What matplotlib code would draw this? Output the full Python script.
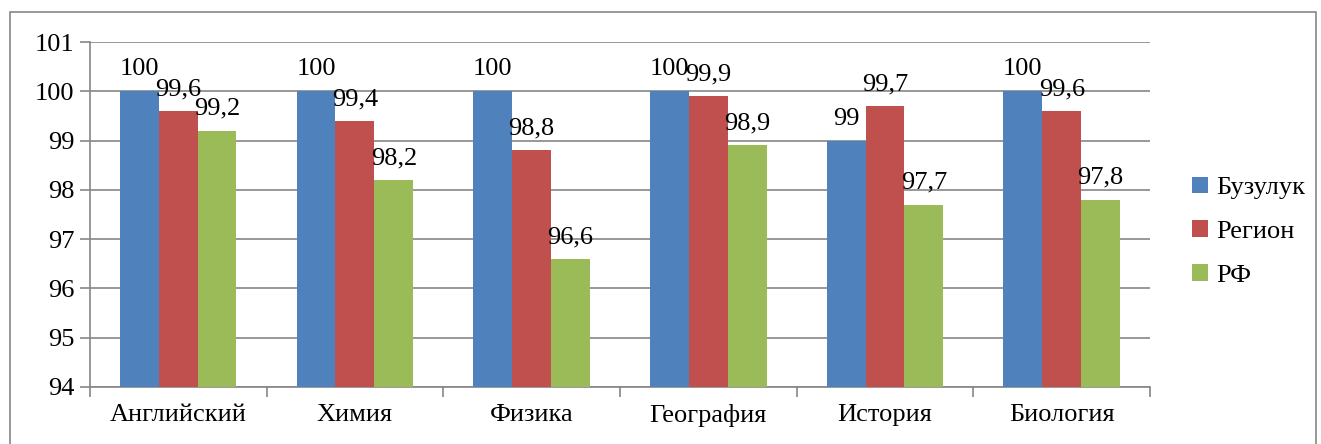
import numpy as np
import matplotlib
matplotlib.use("Agg")
import matplotlib.pyplot as plt
from matplotlib.patches import Rectangle

plt.rcParams['font.family'] = 'serif'
plt.rcParams['font.serif'] = ['Liberation Serif', 'DejaVu Serif']

subjects = ['Английский', 'Химия', 'Физика', 'География', 'История', 'Биология']
series_names = ['Бузулук', 'Регион', 'РФ']
buzuluk = [100, 100, 100, 100, 99, 100]
region = [99.6, 99.4, 98.8, 99.9, 99.7, 99.6]
rf = [99.2, 98.2, 96.6, 98.9, 97.7, 97.8]
colors = ['#4f81bd', '#c0504d', '#9bbb59']

fs = 19

fig = plt.figure(figsize=(13.21, 4.44), dpi=100)
ax = fig.add_axes([0.068, 0.1284, 0.8026, 0.777])

# outer chart border
fig.patches.append(Rectangle((10 / 1321, -0.05), 1306 / 1321, 1.05 - 12 / 444,
                             transform=fig.transFigure, fill=False,
                             edgecolor='#868686', linewidth=1.2))

x = np.arange(len(subjects))
w = 0.22
for i, (vals, name) in enumerate(zip([buzuluk, region, rf], series_names)):
    pos = x + (i - 1) * w
    ax.bar(pos, np.array(vals) - 94, width=w, bottom=94, color=colors[i],
           label=name, zorder=3)
    for p, v in zip(pos, vals):
        txt = ('%g' % v).replace('.', ',')
        ax.text(p, v + 0.22, txt, ha='center', va='bottom', fontsize=fs, zorder=4)

ax.set_ylim(94, 101)
ax.set_xlim(-0.5, len(subjects) - 0.5)
ax.set_yticks(range(94, 102))
ax.yaxis.grid(True, color='#868686', linewidth=1.2, zorder=0)
ax.set_xticks(x)
ax.set_xticklabels(subjects, fontsize=fs)
ax.set_xticks(np.arange(-0.5, len(subjects)), minor=True)
ax.tick_params(axis='x', which='major', length=0, pad=12)
ax.tick_params(axis='x', which='minor', length=7, color='#868686', width=1.2)
ax.tick_params(axis='y', labelsize=fs, length=7, color='#868686', width=1.2, pad=4)

for s in ['top', 'right']:
    ax.spines[s].set_visible(False)
for s in ['left', 'bottom']:
    ax.spines[s].set_color('#868686')
    ax.spines[s].set_linewidth(1.2)

ax.legend(loc='center left', bbox_to_anchor=(1.04, 0.45), frameon=False,
          fontsize=fs, handlelength=0.6, handleheight=0.6, labelspacing=0.8,
          handletextpad=0.3, borderaxespad=0, borderpad=0)

fig.savefig('out.png', dpi=100)
